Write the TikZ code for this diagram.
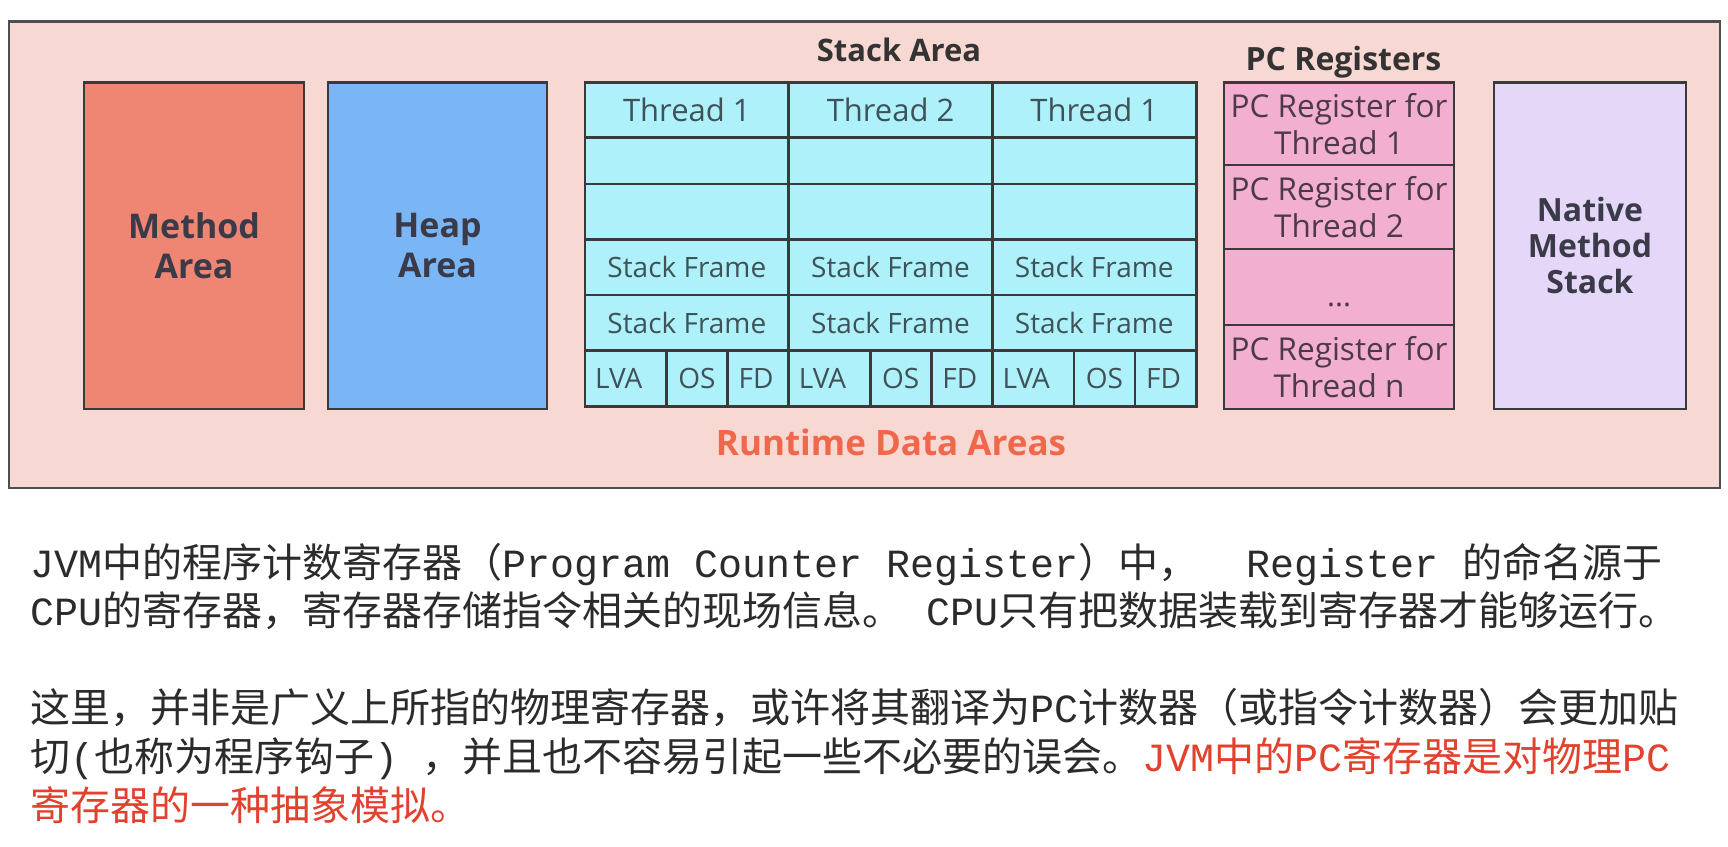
\documentclass[tikz,border=0pt]{standalone}
\usepackage{fontspec}
\setmainfont{Open Sans}
\newfontfamily\cjkf{Noto Sans CJK SC}
\newfontfamily\monof{Liberation Mono}
\newcommand{\mn}[1]{{\monof #1}}
\definecolor{outerc}{HTML}{F8D8D3}
\definecolor{methodc}{HTML}{EF8573}
\definecolor{heapc}{HTML}{7AB5F5}
\definecolor{stackc}{HTML}{AFF1FA}
\definecolor{pcc}{HTML}{F2AFD0}
\definecolor{nativec}{HTML}{E4D7F8}
\definecolor{bordc}{HTML}{3A3A3A}
\definecolor{darktxt}{HTML}{3A3A48}
\definecolor{stacktxt}{HTML}{3E5258}
\definecolor{pctxt}{HTML}{4D3A48}
\definecolor{titletxt}{HTML}{333333}
\definecolor{rdac}{HTML}{F0684C}
\definecolor{redt}{HTML}{E2412E}
\definecolor{bodytxt}{HTML}{2B2B2B}
\begin{document}
\begin{tikzpicture}[x=1pt,y=-1pt,
  box/.style={draw=bordc, line width=2.8pt, inner sep=0pt, outer sep=0pt, anchor=north west},
  cell/.style={box, fill=stackc, text=stacktxt, font=\fontsize{28}{34}\selectfont},
  pcbox/.style={box, fill=pcc, text=pctxt, align=center, font=\fontsize{31.5}{37}\selectfont},
  big/.style={font=\bfseries\fontsize{34}{40}\selectfont, text=darktxt, align=center},
  title/.style={font=\bfseries\fontsize{31}{36}\selectfont, text=titletxt, anchor=base, inner sep=0pt},
  body/.style={anchor=base west, inner sep=0pt, text=bodytxt, font=\cjkf\fontsize{40}{48}\selectfont}
]
\useasboundingbox (0,0) rectangle (1728,846);
\fill[white] (0,0) rectangle (1728,846);
% outer frame
\node[box, fill=outerc, draw=bordc!90, minimum width=1711pt, minimum height=466.5pt] (rda) at (9,21.5) {};
% method / heap
\node[box, fill=methodc, minimum width=220pt, minimum height=326.5pt, big] (method) at (84,82.5) {Method\\Area};
\node[box, fill=heapc, minimum width=219pt, minimum height=326.5pt, big] (heap) at (328,82.5) {Heap\\Area};
% stack area grid
\foreach \x/\n [count=\c] in {585/1,788.7/2,992.4/1} {
  \node[cell, minimum width=203.7pt, minimum height=54.8pt, font=\fontsize{31}{34}\selectfont] (th\c) at (\x,82.7) {Thread \n};
  \node[cell, minimum width=203.7pt, minimum height=46.5pt] (ea\c) at (\x,137.5) {};
  \node[cell, minimum width=203.7pt, minimum height=55.5pt] (eb\c) at (\x,184) {};
  \node[cell, minimum width=203.7pt, minimum height=55.5pt] (sfa\c) at (\x,239.5) {Stack Frame};
  \node[cell, minimum width=203.7pt, minimum height=55.7pt] (sfb\c) at (\x,295) {Stack Frame};
  \node[cell, minimum width=81.5pt, minimum height=56pt] (lva\c) at (\x,350.7) {LVA\hspace*{14pt}};
  \node[cell, minimum width=61pt, minimum height=56pt] (os\c) at (lva\c.north east) {OS};
  \node[cell, minimum width=61.2pt, minimum height=56pt] (fd\c) at (os\c.north east) {FD\hspace*{4pt}};
}
\node[title] (stacklbl) at (899,61) {Stack Area};
% PC registers
\node[pcbox, minimum width=230pt, minimum height=82.3pt] (pc1) at (1224,82.7) {PC Register for\\Thread 1};
\node[pcbox, minimum width=230pt, minimum height=84pt] (pc2) at (1224,165) {PC Register for\\Thread 2};
\node[pcbox, minimum width=230pt, minimum height=76pt] (pc3) at (1224,249) {};
\node[pcbox, minimum width=230pt, minimum height=84pt] (pc4) at (1224,325) {PC Register for\\Thread n};
\node[anchor=base, inner sep=0pt, text=pctxt, font=\fontsize{30}{37}\selectfont] (dots) at (1339,306) {...};
\node[title, font=\bfseries\fontsize{32}{36}\selectfont] (pclbl) at (1343.5,70) {PC Registers};
% native
\node[box, fill=nativec, minimum width=192pt, minimum height=326.3pt, big, font=\bfseries\fontsize{32}{36}\selectfont, yshift=-2pt] (native) at (1494,80.7) {Native\\Method\\Stack};
% caption
\node[title, text=rdac, font=\bfseries\fontsize{35}{40}\selectfont] (rdalbl) at (891,455) {Runtime Data Areas};
% body text
\node[body] (l1) at (30,577) {\mn{JVM}中的程序计数寄存器（\mn{Program~Counter~Register}）中，\mn{~~Register~}的命名源于};
\node[body] (l2) at (30,625) {\mn{CPU}的寄存器，寄存器存储指令相关的现场信息。\mn{~CPU}只有把数据装载到寄存器才能够运行。};
\node[body] (l3) at (30,722) {这里，并非是广义上所指的物理寄存器，或许将其翻译为\mn{PC}计数器（或指令计数器）会更加贴};
\node[body] (l4) at (30,771) {切\mn{(}也称为程序钩子\mn{)~}，并且也不容易引起一些不必要的误会。{\color{redt}\mn{JVM}中的\mn{PC}寄存器是对物理\mn{PC}}};
\node[body, text=redt] (l5) at (30,820) {寄存器的一种抽象模拟。};
\end{tikzpicture}
\end{document}
